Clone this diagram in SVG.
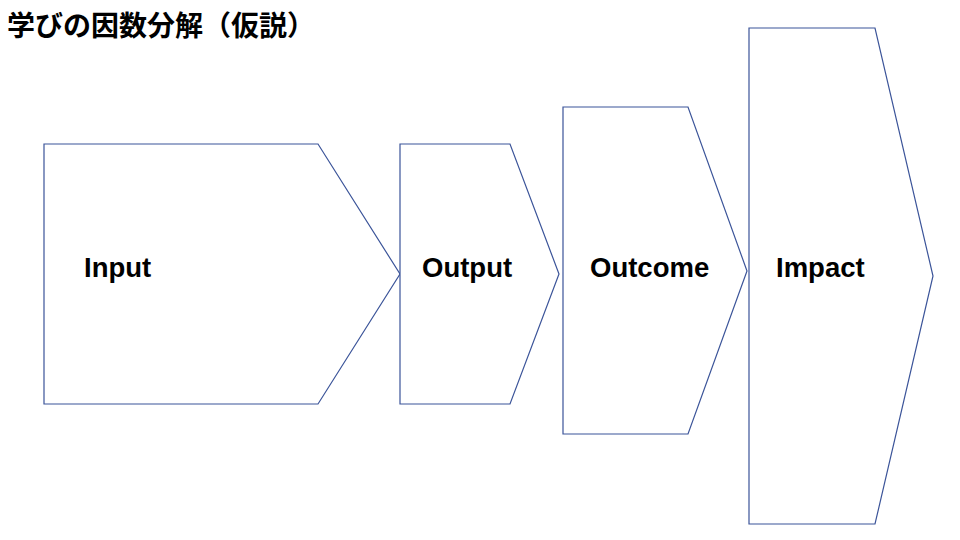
<svg xmlns="http://www.w3.org/2000/svg" width="960" height="540" viewBox="0 0 960 540">
<style>
.s{fill:#fff;stroke:#3b5499;stroke-width:1.2;}
.l{font-family:"Liberation Sans","Noto Sans",sans-serif;font-weight:bold;font-size:27.5px;fill:#000;}
.t{font-family:"Liberation Sans","Noto Sans CJK JP",sans-serif;font-weight:bold;font-size:28px;fill:#000;}
</style>
<rect width="960" height="540" fill="#fff"/>
<text class="t" x="7" y="36">学びの因数分解（仮説）</text>
<g id="input"><polygon class="s" points="44,144 318,144 400,274 318,404 44,404"/><text class="l" x="84" y="277">Input</text></g>
<g id="output"><polygon class="s" points="400,144 510,144 559,274 510,404 400,404"/><text class="l" x="422" y="277">Output</text></g>
<g id="outcome"><polygon class="s" points="563,107 688,107 747,271 688,434 563,434"/><text class="l" x="590" y="277">Outcome</text></g>
<g id="impact"><polygon class="s" points="749,28 875,28 933,276 875,524 749,524"/><text class="l" x="776" y="277">Impact</text></g>
<g id="connectors"></g>
</svg>
